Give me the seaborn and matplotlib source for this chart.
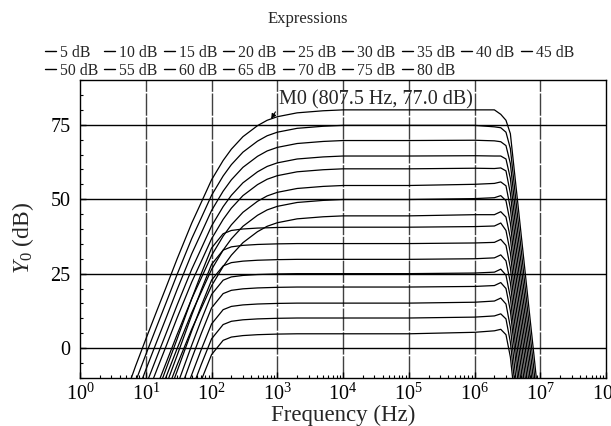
# Gain sweep: Y0 magnitude response for each gain setting
import numpy as np
import pandas as pd
import matplotlib
matplotlib.use("Agg")
import matplotlib.pyplot as plt
import seaborn as sns
from matplotlib.lines import Line2D
from matplotlib.ticker import LogLocator, MultipleLocator

# ------------------ data ------------------

freq = [5, 7, 10, 15, 20, 30, 50, 70, 100, 150, 200, 300, 500, 700, 1e3, 2e3, 5e3, 1e4,
        1e5, 1e6, 2e6, 2.5e6, 3e6, 3.5e6, 4e6, 5e6, 6e6, 7e6, 8e6, 1e7]

gains = [5, 10, 15, 20, 25, 30, 35, 40, 45, 50, 55, 60, 65, 70, 75, 80]

y_80 = [-15, -6, 3, 13, 20, 30, 42, 49, 56.5, 63, 66.8, 71, 74.7, 76.5, 77.7, 79, 79.7, 80,
        80, 80, 80, 78.5, 76.5, 72, 60, 40, 23.5, 9.5, -2.5, -23]
y_75 = [-20.2, -11.2, -2.2, 7.8, 14.8, 24.8, 36.8, 43.8, 51.3, 57.8, 61.6, 65.8, 69.5, 71.3, 72.5, 73.8, 74.5, 74.8,
        74.8, 74.8, 74.3, 74, 72.5, 67, 55, 35, 18.5, 4.5, -7.5, -28]
y_70 = [-25.3, -16.3, -7.3, 2.7, 9.7, 19.7, 31.7, 38.7, 46.2, 52.7, 56.5, 60.7, 64.4, 66.2, 67.4, 68.7, 69.4, 69.7,
        69.7, 69.8, 69.6, 69.3, 68, 62, 50, 30, 13.5, -0.5, -12.5, -33]
y_65 = [-30.5, -21.5, -12.5, -2.5, 4.5, 14.5, 26.5, 33.5, 41, 47.5, 51.3, 55.5, 59.2, 61, 62.2, 63.5, 64.2, 64.5,
        64.5, 64.6, 64.5, 64.5, 63.5, 57, 45, 25, 8.5, -5.5, -17.5, -38]
y_60 = [-34.8, -25.8, -16.8, -6.8, 0.2, 10.2, 22.2, 29.2, 36.7, 43.2, 47, 51.2, 54.9, 56.7, 57.9, 59.2, 59.9, 60.2,
        60.2, 60.4, 60.3, 60.5, 59.5, 52, 40, 20, 3.5, -10.5, -22.5, -43]
y_55 = [-40.4, -31.4, -22.4, -12.4, -5.4, 4.6, 16.6, 23.6, 31.1, 37.6, 41.4, 45.6, 49.3, 51.1, 52.3, 53.6, 54.3, 54.6,
        54.6, 55, 55.3, 55.8, 54.5, 47, 35, 15, -1.5, -15.5, -27.5, -48]
y_50 = [-45.1, -36.1, -27.1, -17.1, -10.1, -0.1, 11.9, 18.9, 26.4, 32.9, 36.7, 40.9, 44.6, 46.4, 47.6, 48.9, 49.6, 49.9,
        49.9, 50.2, 50.5, 51.2, 49.5, 42, 30, 10, -6.5, -20.5, -32.5, -53]
y_45 = [-50.6, -41.6, -32.6, -22.6, -15.6, -5.6, 6.4, 13.4, 20.9, 27.4, 31.2, 35.4, 39.1, 40.9, 42.1, 43.4, 44.1, 44.4,
        44.4, 44.8, 44.8, 45.8, 44, 37, 25, 5, -11.5, -25.5, -37.5, -58]
y_40 = [-43.4, -34.4, -25.4, -14.9, -7.4, 3.1, 16.6, 25.1, 33.6, 38.4, 39.5, 40, 40.3, 40.4, 40.5, 40.6, 40.6, 40.6,
        40.6, 40.8, 41, 42, 39.5, 32, 20, 0, -16.5, -30.5, -42.5, -63]
y_35 = [-48.9, -39.9, -30.9, -20.4, -12.9, -2.4, 11.1, 19.6, 28.1, 32.9, 34, 34.5, 34.8, 34.9, 35, 35.1, 35.1, 35.1,
        35.1, 35.3, 35.5, 36.5, 34.5, 27, 15, -5, -21.5, -35.5, -47.5, -68]
y_30 = [-54.2, -45.2, -36.2, -25.7, -18.2, -7.7, 5.8, 14.3, 22.8, 27.6, 28.7, 29.2, 29.5, 29.6, 29.7, 29.8, 29.8, 29.8,
        29.8, 30, 30.3, 31.3, 29.3, 22, 10, -10, -26.5, -40.5, -52.5, -73]
y_25 = [-59, -50, -41, -30.5, -23, -12.5, 1, 9.5, 18, 22.8, 23.9, 24.4, 24.7, 24.8, 24.9, 25, 25, 25,
        25, 25.2, 25.5, 26.5, 24.5, 17, 5, -15, -31.5, -45.5, -57.5, -78]
y_20 = [-63.5, -54.5, -45.5, -35, -27.5, -17, -3.5, 5, 13.5, 18.3, 19.4, 19.9, 20.2, 20.3, 20.4, 20.5, 20.5, 20.5,
        20.5, 20.7, 21, 22, 20, 12.5, 0.5, -19.5, -36, -50, -62, -82.5]
y_15 = [-68.9, -59.9, -50.9, -40.4, -32.9, -22.4, -8.9, -0.4, 8.1, 12.9, 14, 14.5, 14.8, 14.9, 15, 15.1, 15.1, 15.1,
        15.1, 15.4, 15.8, 16.8, 14.8, 7, -5, -25, -41.5, -55.5, -67.5, -88]
y_10 = [-73.9, -64.9, -55.9, -45.4, -37.9, -27.4, -13.9, -5.4, 3.1, 7.9, 9, 9.5, 9.8, 9.9, 10, 10.1, 10.1, 10.1,
        10.1, 10.4, 10.8, 11.5, 9.8, 2, -10, -30, -46.5, -60.5, -72.5, -93]
y_5 = [-79.2, -70.2, -61.2, -50.7, -43.2, -32.7, -19.2, -10.7, -2.2, 2.6, 3.7, 4.2, 4.5, 4.6, 4.7, 4.8, 4.8, 4.8,
       4.8, 5.3, 5.8, 6.3, 4.5, -3, -15, -35, -51.5, -65.5, -77.5, -98]

curves = [y_5, y_10, y_15, y_20, y_25, y_30, y_35, y_40,
          y_45, y_50, y_55, y_60, y_65, y_70, y_75, y_80]

x_ticks = [1e0, 1e1, 1e2, 1e3, 1e4, 1e5, 1e6, 1e7, 1e8]
x_ticklabels = [r"$10^{%d}$" % k for k in range(9)]

marker_f = 807.5
marker_y = 77.0

# ------------------ long-form table ------------------

rows = []
for g, ys in zip(gains, curves):
    for f, v in zip(freq, ys):
        rows.append({"freq": f, "y": v, "gain": f"{g} dB"})
df = pd.DataFrame(rows)

# ------------------ style ------------------

sns.set_theme(style="white")
plt.rcParams["font.family"] = ["Liberation Serif", "DejaVu Serif"]
plt.rcParams["mathtext.fontset"] = "custom"
plt.rcParams["mathtext.rm"] = "Liberation Serif"
plt.rcParams["mathtext.it"] = "Liberation Serif:italic"

fig = plt.figure(figsize=(6.11, 4.26), dpi=100)
ax = fig.add_axes([0.131, 0.113, 0.861, 0.699])

sns.lineplot(data=df, x="freq", y="y", hue="gain", palette=["black"] * len(gains),
             estimator=None, legend=False, linewidth=0.9, ax=ax)

ax.set_xscale("log")
ax.set_xlim(1, 1e8)
ax.set_ylim(-10, 90)

# grid
for d in range(1, 8):
    ax.axvline(10.0 ** d, color="0.25", lw=1.0, ls=(0, (16, 1.2)), zorder=0)
for h in [0, 25, 50, 75]:
    ax.axhline(h, color="black", lw=1.0, zorder=0)

ax.set_yticks([0, 25, 50, 75])
ax.yaxis.set_minor_locator(MultipleLocator(5))
ax.set_xticks(x_ticks)
ax.set_xticklabels(x_ticklabels)
ax.xaxis.set_minor_locator(LogLocator(base=10, subs=np.arange(2, 10), numticks=20))
ax.set_xlim(1, 1e8)
ax.tick_params(axis="both", which="major", direction="in", length=4, width=1,
               labelsize=14.5, color="black", labelcolor="black")
ax.tick_params(axis="y", which="major", pad=7)
ax.tick_params(axis="x", which="major", pad=4)
ax.tick_params(axis="both", which="minor", direction="in", length=2.5, width=0.8, color="black")
ax.tick_params(left=True, bottom=True, which="both")

for s in ax.spines.values():
    s.set_color("black")
    s.set_linewidth(1.0)

ax.set_xlabel("Frequency (Hz)", fontsize=16.5, labelpad=0)
ax.set_ylabel(r"$\mathit{Y}_{0}$ (dB)", fontsize=17)
ax.yaxis.set_label_coords(-0.083, 0.47)

# marker annotation
ax.annotate("M0 (807.5 Hz, 77.0 dB)", xy=(marker_f, marker_y), xytext=(1.05e3, 83.4),
            fontsize=14.5, ha="left", va="center",
            arrowprops=dict(arrowstyle="-|>", color="black", lw=0.8, mutation_scale=7,
                            shrinkA=0, shrinkB=0, relpos=(0.0, 0.15)))

# title + legend
fig.text(0.503, 0.955, "Expressions", ha="center", va="center", fontsize=12)

order = [5, 50, 10, 55, 15, 60, 20, 65, 25, 70, 30, 75, 35, 80, 40, 45]
handles = [Line2D([], [], color="black", lw=1.0) for _ in order]
labels = [f"{g} dB" for g in order]
fig.legend(handles, labels, ncol=9, loc="upper left", bbox_to_anchor=(0.073, 0.895),
           frameon=False, fontsize=11.3, handlelength=0.7, handletextpad=0.25,
           columnspacing=0.4, labelspacing=0.12, borderpad=0, borderaxespad=0)

fig.savefig("out.png", dpi=100)
